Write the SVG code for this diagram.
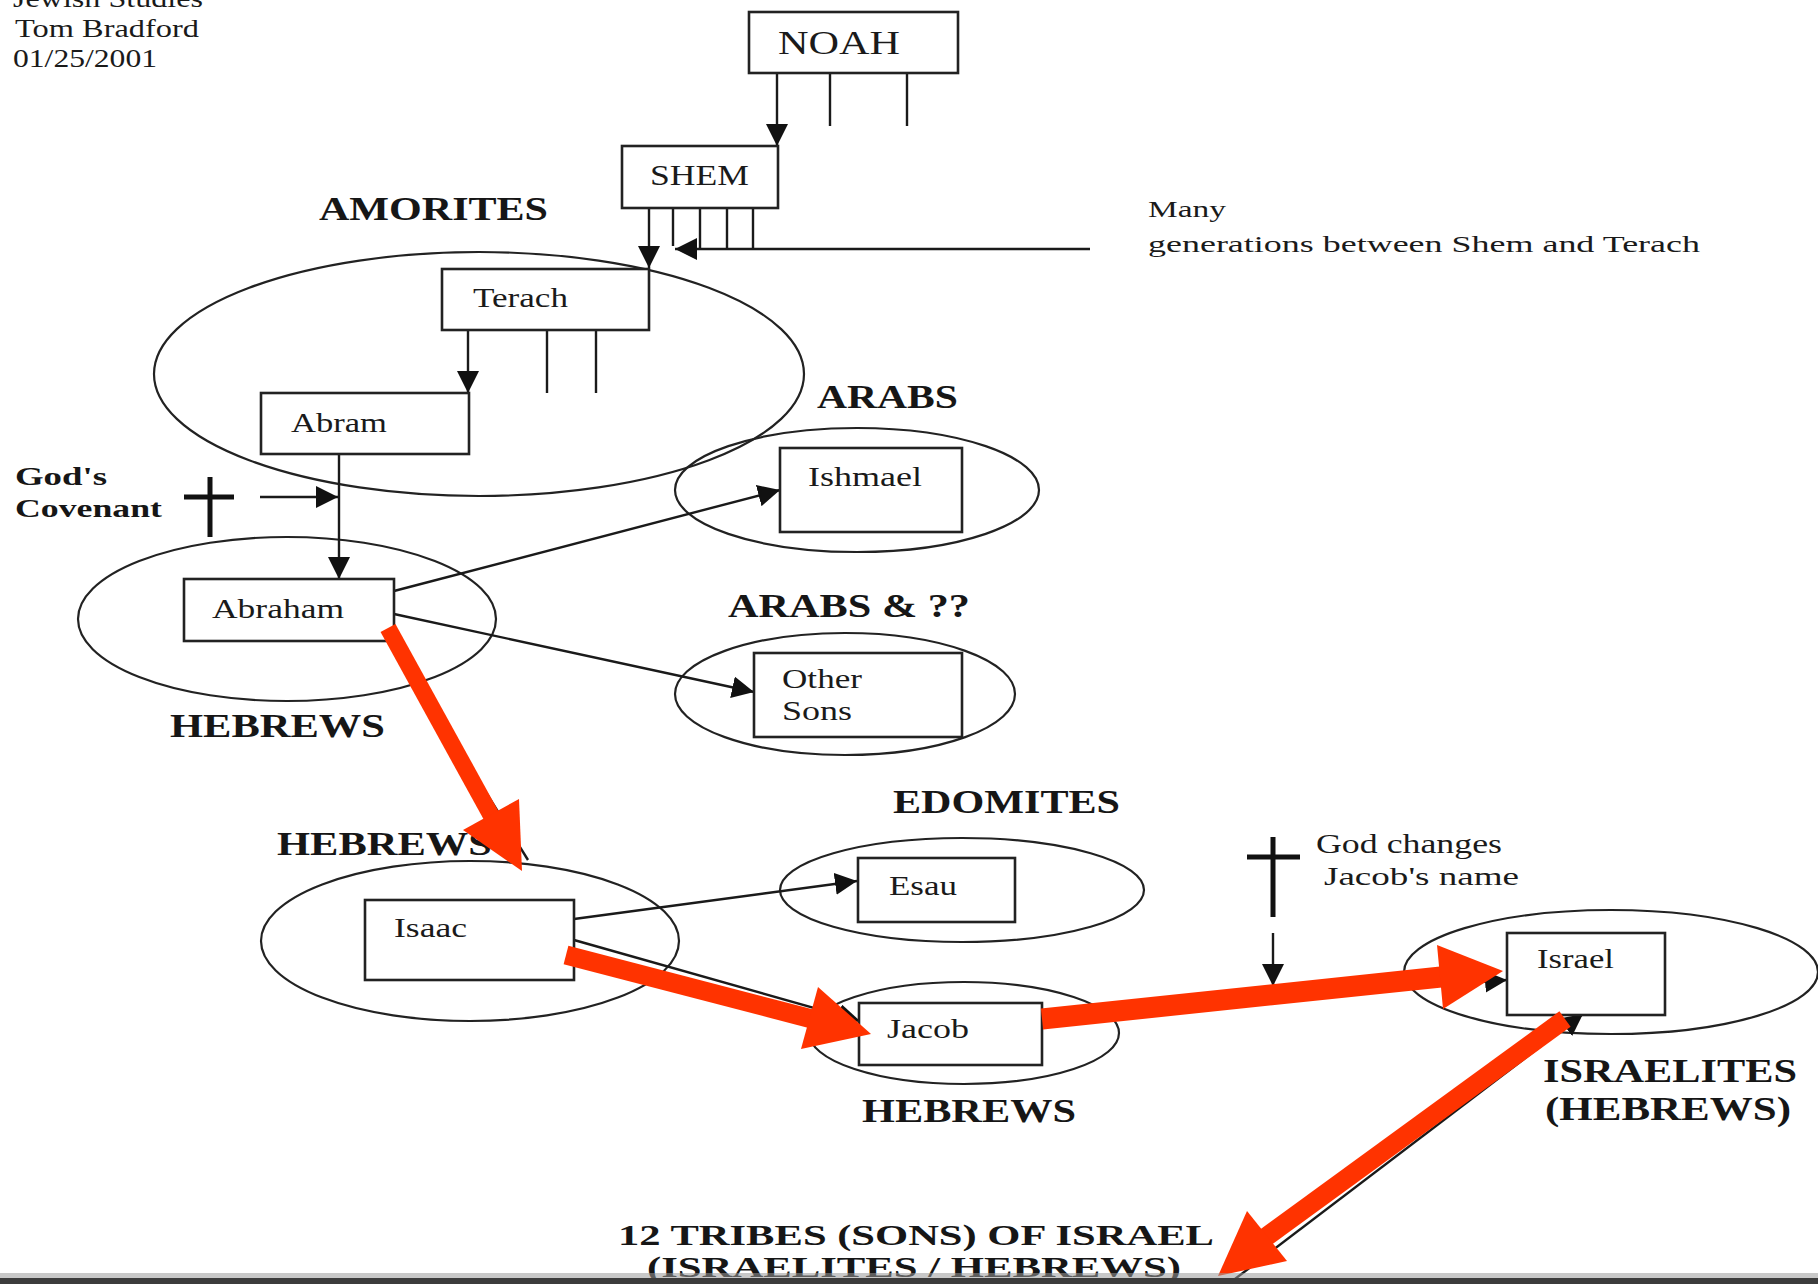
<svg xmlns="http://www.w3.org/2000/svg" width="1818" height="1284" viewBox="0 0 1818 1284">
<defs>
<style>
.bg{fill:#ffffff}
.box{fill:#ffffff;stroke:#222;stroke-width:2.6}
.ell{fill:none;stroke:#222;stroke-width:2.2}
.ln{fill:none;stroke:#1a1a1a;stroke-width:2.4}
.thick{fill:none;stroke:#111;stroke-width:5}
.ah{fill:#111}
.n{font-family:"Liberation Serif","Times New Roman",serif;fill:#1a1a1a}
.b{font-family:"Liberation Serif","Times New Roman",serif;font-weight:bold;fill:#161616}
.red{fill:none;stroke:#ff3300;stroke-linecap:butt}
.redh{fill:#ff3300}
</style>
<marker id="arr" markerUnits="userSpaceOnUse" markerWidth="24" markerHeight="24" refX="22" refY="11" orient="auto">
<path d="M0,0 L22,11 L0,22 z" fill="#111"/>
</marker>
</defs>
<rect class="bg" x="0" y="0" width="1818" height="1284"/>

<g id="header">
<text class="n" x="13" y="7" font-size="26" textLength="190" lengthAdjust="spacingAndGlyphs">Jewish Studies</text>
<text class="n" x="15" y="37" font-size="26" textLength="184" lengthAdjust="spacingAndGlyphs">Tom Bradford</text>
<text class="n" x="13" y="67" font-size="26" textLength="144" lengthAdjust="spacingAndGlyphs">01/25/2001</text>
</g>

<g id="groups">
<ellipse id="amorites-ellipse" class="ell" cx="479" cy="374" rx="325" ry="122"/>
<ellipse id="arabs-ellipse" class="ell" cx="857" cy="490" rx="182" ry="62"/>
<ellipse id="hebrews1-ellipse" class="ell" cx="287" cy="619" rx="209" ry="82"/>
<ellipse id="arabs2-ellipse" class="ell" cx="845" cy="694" rx="170" ry="61"/>
<ellipse id="hebrews2-ellipse" class="ell" cx="470" cy="941" rx="209" ry="80"/>
<ellipse id="edomites-ellipse" class="ell" cx="962" cy="890" rx="182" ry="52"/>
<ellipse id="hebrews3-ellipse" class="ell" cx="964" cy="1033" rx="155" ry="51"/>
<ellipse id="israelites-ellipse" class="ell" cx="1611" cy="972" rx="207" ry="62"/>
</g>

<g id="labels">
<text class="b" x="319" y="220" font-size="33" textLength="229" lengthAdjust="spacingAndGlyphs">AMORITES</text>
<text class="b" x="817" y="408" font-size="33" textLength="141" lengthAdjust="spacingAndGlyphs">ARABS</text>
<text class="b" x="728" y="617" font-size="33" textLength="242" lengthAdjust="spacingAndGlyphs">ARABS &amp; ??</text>
<text class="b" x="170" y="737" font-size="33" textLength="215" lengthAdjust="spacingAndGlyphs">HEBREWS</text>
<text class="b" x="277" y="855" font-size="33" textLength="215" lengthAdjust="spacingAndGlyphs">HEBREWS</text>
<text class="b" x="893" y="813" font-size="33" textLength="227" lengthAdjust="spacingAndGlyphs">EDOMITES</text>
<text class="b" x="862" y="1122" font-size="33" textLength="214" lengthAdjust="spacingAndGlyphs">HEBREWS</text>
<text class="b" x="1543" y="1082" font-size="33" textLength="254" lengthAdjust="spacingAndGlyphs">ISRAELITES</text>
<text class="b" x="1545" y="1120" font-size="33" textLength="246" lengthAdjust="spacingAndGlyphs">(HEBREWS)</text>
<text class="b" x="618" y="1245" font-size="30" textLength="596" lengthAdjust="spacingAndGlyphs">12 TRIBES (SONS) OF ISRAEL</text>
<text class="b" x="647" y="1277" font-size="30" textLength="534" lengthAdjust="spacingAndGlyphs">(ISRAELITES / HEBREWS)</text>
<text class="b" x="15" y="485" font-size="26" textLength="92" lengthAdjust="spacingAndGlyphs">God's</text>
<text class="b" x="15" y="517" font-size="26" textLength="147" lengthAdjust="spacingAndGlyphs">Covenant</text>
<text class="n" x="1148" y="217" font-size="23" textLength="78" lengthAdjust="spacingAndGlyphs">Many</text>
<text class="n" x="1148" y="252" font-size="23" textLength="552" lengthAdjust="spacingAndGlyphs">generations between Shem and Terach</text>
<text class="n" x="1316" y="853" font-size="27" textLength="186" lengthAdjust="spacingAndGlyphs">God changes</text>
<text class="n" x="1324" y="885" font-size="26" textLength="195" lengthAdjust="spacingAndGlyphs">Jacob's name</text>
</g>

<g id="connectors">
<!-- Noah children -->
<line class="ln" x1="777" y1="73" x2="777" y2="146" marker-end="url(#arr)"/>
<line class="ln" x1="830" y1="73" x2="830" y2="126"/>
<line class="ln" x1="907" y1="73" x2="907" y2="126"/>
<!-- Shem descendants -->
<line class="ln" x1="649" y1="208" x2="649" y2="268" marker-end="url(#arr)"/>
<line class="ln" x1="673" y1="208" x2="673" y2="246"/>
<line class="ln" x1="700" y1="208" x2="700" y2="249"/>
<line class="ln" x1="727" y1="208" x2="727" y2="249"/>
<line class="ln" x1="753" y1="208" x2="753" y2="249"/>
<line class="ln" x1="1090" y1="249" x2="675" y2="249" marker-end="url(#arr)"/>
<!-- Terach children -->
<line class="ln" x1="468" y1="331" x2="468" y2="393" marker-end="url(#arr)"/>
<line class="ln" x1="547" y1="331" x2="547" y2="393"/>
<line class="ln" x1="596" y1="331" x2="596" y2="393"/>
<!-- Abram to Abraham -->
<line class="ln" x1="339" y1="434" x2="339" y2="579" marker-end="url(#arr)"/>
<!-- covenant -->
<line class="thick" x1="210" y1="477" x2="210" y2="537"/>
<line class="thick" x1="184" y1="497" x2="234" y2="497"/>
<line class="ln" x1="260" y1="497" x2="338" y2="497" marker-end="url(#arr)"/>
<!-- Abraham children -->
<line class="ln" x1="394" y1="591" x2="780" y2="490" marker-end="url(#arr)"/>
<line class="ln" x1="394" y1="614" x2="754" y2="692" marker-end="url(#arr)"/>
<line class="ln" x1="392" y1="641" x2="528" y2="860"/>
<!-- Isaac children -->
<line class="ln" x1="574" y1="919" x2="857" y2="881" marker-end="url(#arr)"/>
<line class="ln" x1="574" y1="940" x2="860" y2="1021" marker-end="url(#arr)"/>
<!-- Jacob to Israel -->
<line class="ln" x1="1042" y1="1015" x2="1507" y2="980" marker-end="url(#arr)"/>
<!-- God changes name -->
<line class="thick" x1="1273" y1="837" x2="1273" y2="917"/>
<line class="thick" x1="1247" y1="857" x2="1300" y2="857"/>
<line class="ln" x1="1273" y1="933" x2="1273" y2="986" marker-end="url(#arr)"/>
<!-- Israel to tribes -->
<line class="ln" x1="1231" y1="1282" x2="1583" y2="1014" marker-end="url(#arr)"/>
</g>

<g id="node-noah"><rect class="box" x="749" y="12" width="209" height="61"/><text class="n" x="778" y="54" font-size="33" textLength="122" lengthAdjust="spacingAndGlyphs">NOAH</text></g>
<g id="node-shem"><rect class="box" x="622" y="146" width="156" height="62"/><text class="n" x="650" y="185" font-size="29" textLength="99" lengthAdjust="spacingAndGlyphs">SHEM</text></g>
<g id="node-terach"><rect class="box" x="442" y="269" width="207" height="61"/><text class="n" x="473" y="307" font-size="27" textLength="95" lengthAdjust="spacingAndGlyphs">Terach</text></g>
<g id="node-abram"><rect class="box" x="261" y="393" width="208" height="61"/><text class="n" x="291" y="432" font-size="27" textLength="96" lengthAdjust="spacingAndGlyphs">Abram</text></g>
<g id="node-abraham"><rect class="box" x="184" y="579" width="210" height="62"/><text class="n" x="212" y="618" font-size="27" textLength="132" lengthAdjust="spacingAndGlyphs">Abraham</text></g>
<g id="node-ishmael"><rect class="box" x="780" y="448" width="182" height="84"/><text class="n" x="808" y="486" font-size="27" textLength="114" lengthAdjust="spacingAndGlyphs">Ishmael</text></g>
<g id="node-other-sons"><rect class="box" x="754" y="653" width="208" height="84"/><text class="n" x="782" y="688" font-size="27" textLength="80" lengthAdjust="spacingAndGlyphs">Other</text><text class="n" x="782" y="720" font-size="27" textLength="70" lengthAdjust="spacingAndGlyphs">Sons</text></g>
<g id="node-isaac"><rect class="box" x="365" y="900" width="209" height="80"/><text class="n" x="394" y="937" font-size="27" textLength="73" lengthAdjust="spacingAndGlyphs">Isaac</text></g>
<g id="node-esau"><rect class="box" x="858" y="858" width="157" height="64"/><text class="n" x="889" y="895" font-size="27" textLength="68" lengthAdjust="spacingAndGlyphs">Esau</text></g>
<g id="node-jacob"><rect class="box" x="859" y="1003" width="183" height="62"/><text class="n" x="887" y="1038" font-size="27" textLength="82" lengthAdjust="spacingAndGlyphs">Jacob</text></g>
<g id="node-israel"><rect class="box" x="1507" y="933" width="158" height="82"/><text class="n" x="1537" y="968" font-size="27" textLength="77" lengthAdjust="spacingAndGlyphs">Israel</text></g>

<g id="red-arrows">
<line class="red" stroke-width="17" x1="388" y1="628" x2="492" y2="817"/>
<polygon class="redh" points="463,830 519,799 522,871"/>
<line class="red" stroke-width="19" x1="566" y1="955" x2="812" y2="1019"/>
<polygon class="redh" points="818,987 801,1049 871,1034"/>
<line class="red" stroke-width="21" x1="1042" y1="1019" x2="1441" y2="977"/>
<polygon class="redh" points="1437,945 1443,1009 1503,971"/>
<line class="red" stroke-width="19" x1="1565" y1="1019" x2="1266" y2="1237"/>
<polygon class="redh" points="1247,1211 1287,1261 1218,1276"/>
</g>

<g id="bottom-edge">
<rect x="0" y="1273" width="1818" height="5" fill="#9a9a9a" opacity="0.55"/>
<rect x="0" y="1278" width="1818" height="6" fill="#3c3c3c"/>
</g>
</svg>
